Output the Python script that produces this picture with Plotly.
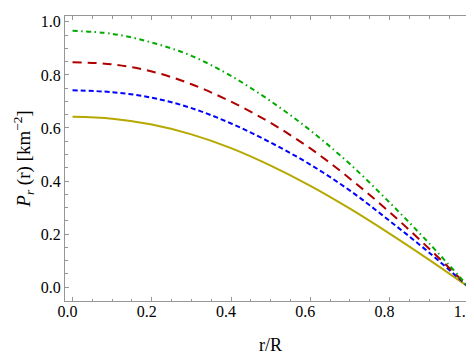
import plotly.graph_objects as go

x_vals = [0.0, 0.1, 0.2, 0.3, 0.4, 0.5, 0.6, 0.7, 0.8, 0.9, 1.0]
p_yellow = [0.642, 0.635, 0.613, 0.576, 0.524, 0.458, 0.382, 0.296, 0.202, 0.103, 0.0]
p_blue = [0.742, 0.735, 0.714, 0.675, 0.617, 0.545, 0.462, 0.364, 0.250, 0.130, 0.0]
p_red = [0.848, 0.840, 0.813, 0.765, 0.699, 0.619, 0.523, 0.409, 0.283, 0.145, 0.0]
p_green = [0.966, 0.955, 0.922, 0.872, 0.796, 0.701, 0.591, 0.464, 0.319, 0.165, 0.0]

x_ticks = [0.0, 0.2, 0.4, 0.6, 0.8, 1.0]
x_tick_labels = ["0.0", "0.2", "0.4", "0.6", "0.8", "1.0"]
y_ticks = [0.0, 0.2, 0.4, 0.6, 0.8, 1.0]
y_tick_labels = ["0.0", "0.2", "0.4", "0.6", "0.8", "1.0"]

series = [
    (p_yellow, "rgb(181,168,0)", "solid"),
    (p_blue, "rgb(0,0,255)", "5px,3px"),
    (p_red, "rgb(175,0,0)", "9px,6px"),
    (p_green, "rgb(0,170,0)", "5px,3.5px,1.5px,3.5px"),
]

fig = go.Figure()
for vals, color, dash in series:
    fig.add_trace(go.Scatter(
        x=x_vals, y=vals, mode="lines",
        line=dict(color=color, width=2, dash=dash, shape="spline", smoothing=1.0),
        showlegend=False,
    ))

font_family = "Liberation Serif, Times New Roman, serif"
axis_common = dict(
    showline=True, linecolor="rgb(150,150,150)", linewidth=1, mirror="ticks",
    ticks="inside", ticklen=4, tickcolor="rgb(150,150,150)", tickwidth=1,
    showgrid=False, zeroline=False,
    ticklabeloverflow="allow",
    minor=dict(ticks="inside", ticklen=2.5, dtick=0.05, tickcolor="rgb(150,150,150)", showgrid=False),
)

fig.update_layout(
    width=474, height=354,
    margin=dict(l=57, r=5, t=5, b=61),
    paper_bgcolor="white", plot_bgcolor="white",
    font=dict(family=font_family, size=16, color="black"),
    xaxis=dict(
        range=[-0.019, 1.018], tickvals=x_ticks, ticktext=x_tick_labels,
        ticklabelstandoff=-4, ticklabelshift=-5,
        tickfont=dict(family=font_family, size=16, color="black"),
        title=dict(text="r/R", font=dict(family=font_family, size=18), standoff=19),
        **axis_common,
    ),
    yaxis=dict(
        range=[-0.052, 1.022], tickvals=y_ticks, ticktext=y_tick_labels,
        tickfont=dict(family=font_family, size=16, color="black"),
        title=dict(text="<i>P</i><sub><i>r</i></sub> (r) [km<sup>−2</sup>]",
                   font=dict(family=font_family, size=19), standoff=5),
        **axis_common,
    ),
)

fig.write_html("out.html")
